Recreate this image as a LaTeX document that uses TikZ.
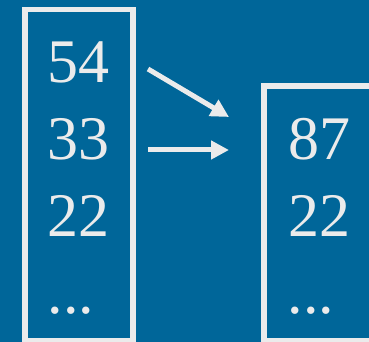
\documentclass[tikz,border=0pt]{standalone}
\usepackage{fontspec}
\setmainfont{Liberation Serif}
\newfontfamily\numfont{Liberation Serif}
\usetikzlibrary{arrows.meta}
\definecolor{bgblue}{HTML}{006699}
\definecolor{fg}{HTML}{EBEBEB}
\tikzset{
  num/.style={text=fg, font=\numfont\fontsize{62}{62}\selectfont, anchor=base, inner sep=0pt},
  col/.style={draw=fg, line width=5.7pt},
  arr/.style={draw=fg, line width=5pt, -{Triangle[length=18pt,width=18pt]}}
}
\begin{document}
\begin{tikzpicture}[x=1pt,y=1pt]
\useasboundingbox (0,0) rectangle (369,342);
\fill[bgblue] (0,0) rectangle (369,342);
\clip (0,0) rectangle (369,342);
% left column
\draw[col] (25,1.5) rectangle (133,332.6);
\node[num] (a1) at (78,259) {54};
\node[num] (a2) at (78,182) {33};
\node[num] (a3) at (78,105) {22};
\node[num] (a4) at (71,28) {...};
% right column
\draw[col] (264.3,1.5) rectangle (400,255.7);
\node[num] (b1) at (319,182) {87};
\node[num] (b2) at (319,105) {22};
\node[num] (b3) at (311,28) {...};
% arrows
\coordinate (s1) at (148,273);
\coordinate (t1) at (229,225);
\coordinate (s2) at (148,192);
\coordinate (t2) at (229,192);
\draw[arr] (s1) -- (t1);
\draw[arr] (s2) -- (t2);
\end{tikzpicture}
\end{document}
